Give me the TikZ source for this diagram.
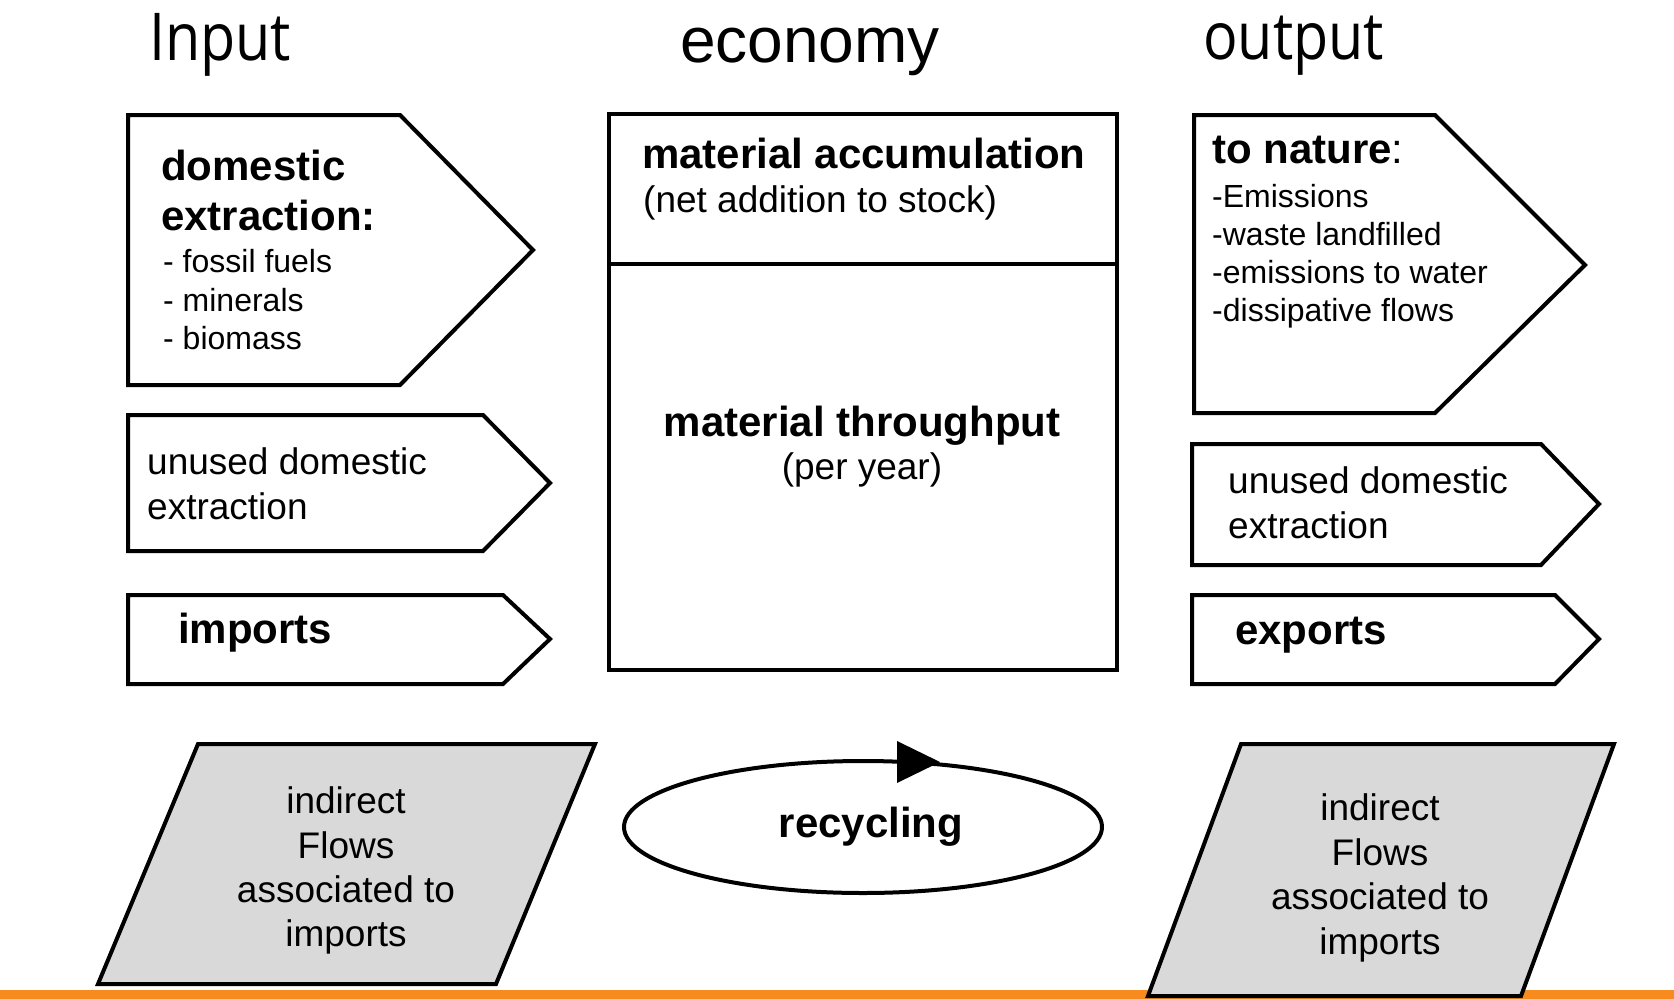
\documentclass[tikz,border=0pt]{standalone}
\usepackage{fontspec}
\setmainfont{Liberation Sans}
\newfontfamily\titlefont[FakeStretch=0.87]{Open Sans}
\usetikzlibrary{shapes.geometric}
\definecolor{flowgray}{HTML}{D9D9D9}
\definecolor{barorange}{RGB}{247,139,31}
\begin{document}
\begin{tikzpicture}[x=1pt,y=-1pt,
  box/.style={line width=4pt, line join=miter, draw=black, fill=white},
  para/.style={line width=4pt, line join=miter, draw=black, fill=flowgray},
  lbl/.style={inner sep=0pt, anchor=base west},
  clbl/.style={inner sep=0pt, anchor=base},
  hb/.style={font=\fontsize{42}{50}\selectfont\bfseries},
  rs/.style={font=\fontsize{32}{38}\selectfont},
  rm/.style={font=\fontsize{37}{45}\selectfont},
  ttl/.style={font=\fontsize{66}{70}\selectfont\titlefont},
]
\useasboundingbox (0,0) rectangle (1674,999);
\fill[barorange] (0,990) rectangle (1674,999);

% input side
\draw[box] (128,115) -- (400,115) -- (533,250) -- (400,385) -- (128,385) -- cycle;
\draw[box] (128,415) -- (483,415) -- (550,483) -- (483,551) -- (128,551) -- cycle;
\draw[box] (128,595) -- (503,595) -- (550,639) -- (503,684) -- (128,684) -- cycle;
% economy
\draw[box] (609,114) rectangle (1117,670);
\draw[line width=4pt] (609,264) -- (1117,264);
% output side
\draw[box] (1194,115) -- (1435,115) -- (1585,265) -- (1435,413) -- (1194,413) -- cycle;
\draw[box] (1192,444) -- (1541,444) -- (1599,504) -- (1541,565) -- (1192,565) -- cycle;
\draw[box] (1192,595) -- (1555,595) -- (1599,639) -- (1555,684) -- (1192,684) -- cycle;
% indirect flows
\draw[para] (198,744) -- (595,744) -- (496,984) -- (98,984) -- cycle;
\draw[para] (1241,744) -- (1614,744) -- (1521,996) -- (1148,996) -- cycle;
% recycling
\node[draw, line width=4pt, ellipse, minimum width=478pt, minimum height=132pt, inner sep=0pt] (rec) at (863,827) {};
\fill (897,741) -- (940,762) -- (897,783) -- cycle;

% titles
\node[ttl, lbl] (tin) at (149,60) {Input};
\node[lbl, font=\fontsize{64}{70}\selectfont] (teco) at (680,62) {economy};
\node[ttl, lbl] (tout) at (1203,59) {output};

% input texts
\node[hb, lbl] (de1) at (161,180) {domestic};
\node[hb, lbl] (de2) at (161,230) {extraction:};
\node[rs, lbl] (de3) at (163,272) {- fossil fuels};
\node[rs, lbl] (de4) at (163,311) {- minerals};
\node[rs, lbl] (de5) at (163,349) {- biomass};
\node[rm, lbl] (ud1) at (147,474) {unused domestic};
\node[rm, lbl] (ud2) at (147,519) {extraction};
\node[hb, lbl] (imp) at (178,643) {imports};

% economy texts
\node[hb, lbl] (ma1) at (642,168) {material accumulation};
\node[rm, lbl] (ma2) at (643,212) {(net addition to stock)};
\node[hb, clbl] (mt1) at (862,436) {material throughput};
\node[rm, clbl] (mt2) at (862,479) {(per year)};

% output texts
\node[lbl, font=\fontsize{42}{50}\selectfont] (tn1) at (1212,163) {{\bfseries to nature}:};
\node[rs, lbl] (tn2) at (1212,207) {-Emissions};
\node[rs, lbl] (tn3) at (1212,245) {-waste landfilled};
\node[rs, lbl] (tn4) at (1212,283) {-emissions to water};
\node[rs, lbl] (tn5) at (1212,321) {-dissipative flows};
\node[rm, lbl] (ur1) at (1228,493) {unused domestic};
\node[rm, lbl] (ur2) at (1228,538) {extraction};
\node[hb, lbl] (exp) at (1235,644) {exports};

% recycling label
\node[hb, clbl] (recyc) at (871,837) {recycling};

% indirect flows texts
\node[rm, clbl] (il1) at (346,813) {indirect};
\node[rm, clbl] (il2) at (346,858) {Flows};
\node[rm, clbl] (il3) at (346,902) {associated to};
\node[rm, clbl] (il4) at (346,946) {imports};
\node[rm, clbl] (ir1) at (1380,820) {indirect};
\node[rm, clbl] (ir2) at (1380,865) {Flows};
\node[rm, clbl] (ir3) at (1380,909) {associated to};
\node[rm, clbl] (ir4) at (1380,954) {imports};
\end{tikzpicture}
\end{document}
